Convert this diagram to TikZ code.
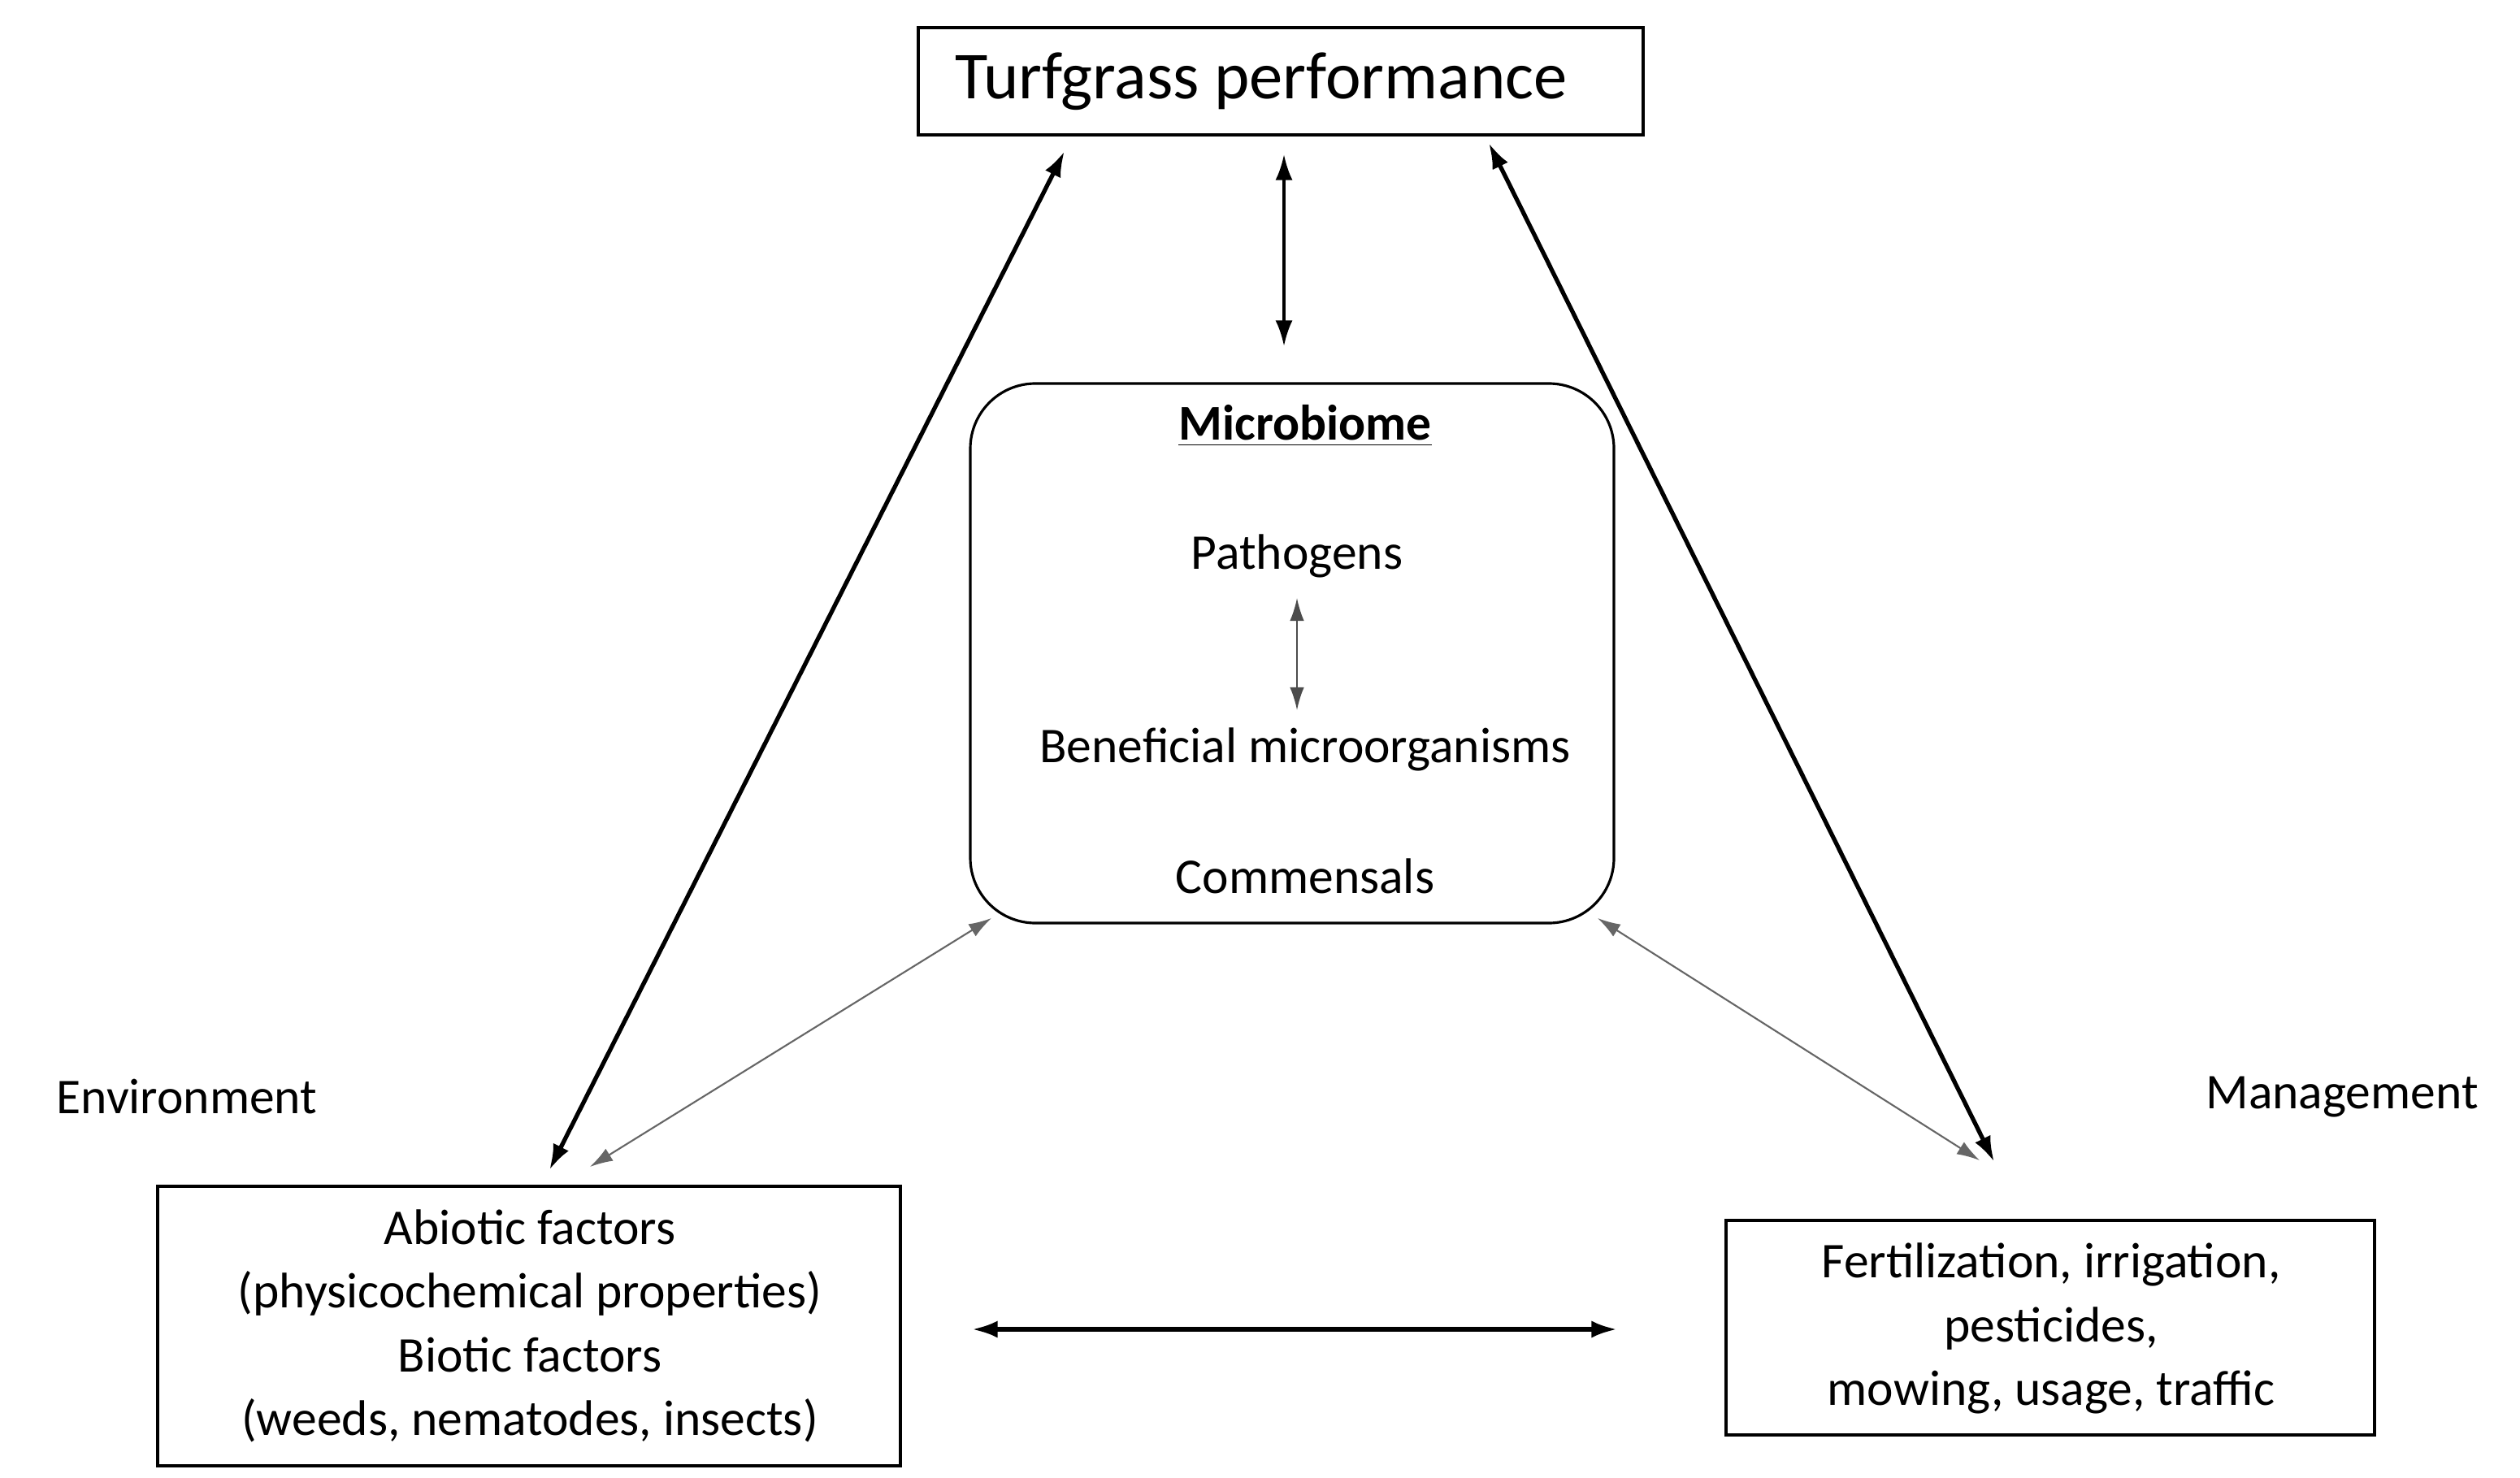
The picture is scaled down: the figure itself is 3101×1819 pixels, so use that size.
\documentclass[tikz,border=0pt]{standalone}
\usepackage{fontspec}
\setmainfont{Carlito}
\usetikzlibrary{arrows.meta}
\begin{document}
\begin{tikzpicture}[x=0.01cm,y=-0.01cm,
  box/.style={draw,line width=0.9pt},
  txt/.style={font=\fontsize{17.5}{21}\selectfont},
  thick arr/.style={{Latex[length=9pt,width=6pt]}-{Latex[length=9pt,width=6pt]},line width=1.5pt},
  thin arr/.style={{Latex[length=8pt,width=5pt]}-{Latex[length=8pt,width=5pt]},line width=0.6pt,draw=black!60}]
\useasboundingbox[fill=white] (0,0) rectangle (3101,1819);
\draw[box] (1130,34) rectangle (2022,166);
\node[font=\fontsize{23.5}{27}\selectfont] (top) at (1552,100) {Turfgrass performance};
\draw[box,rounded corners=0.8cm] (1194,472) rectangle (1986,1136);
\node[txt,font=\fontsize{17.5}{21}\selectfont\bfseries] (mic) at (1606,524) {\underline{Microbiome}};
\node[txt] (pat) at (1596,684) {Pathogens};
\node[txt] (ben) at (1606,922) {Beneficial microorganisms};
\node[txt] (com) at (1606,1078) {Commensals};
\node[txt] (env) at (230,1350) {Environment};
\node[txt] (man) at (2882,1350) {Management};
\draw[box] (194,1460) rectangle (1108,1804);
\node[txt,align=center,font=\fontsize{17.5}{22.3}\selectfont] (envt) at (652,1632) {Abiotic factors\\(physicochemical properties)\\Biotic factors\\(weeds, nematodes, insects)};
\draw[box] (2124,1502) rectangle (2922,1766);
\node[txt,align=center,font=\fontsize{17.5}{22.3}\selectfont] (mant) at (2524,1635) {Fertilization, irrigation,\\pesticides,\\mowing, usage, traffic};
\coordinate (a1) at (1310,186); \coordinate (a2) at (676,1440);
\coordinate (b1) at (1832,176); \coordinate (b2) at (2454,1430);
\coordinate (c1) at (1580,190); \coordinate (c2) at (1580,426);
\coordinate (d1) at (1596,736); \coordinate (d2) at (1596,874);
\coordinate (e1) at (1220,1130); \coordinate (e2) at (726,1436);
\coordinate (f1) at (1966,1130); \coordinate (f2) at (2436,1428);
\coordinate (g1) at (1196,1636); \coordinate (g2) at (1990,1636);
\draw[thick arr] (a1) -- (a2);
\draw[thick arr] (b1) -- (b2);
\draw[thick arr,line width=1.1pt] (c1) -- (c2);
\draw[thin arr,draw=black!70] (d1) -- (d2);
\draw[thin arr] (e1) -- (e2);
\draw[thin arr] (f1) -- (f2);
\draw[thick arr] (g1) -- (g2);
\end{tikzpicture}
\end{document}
